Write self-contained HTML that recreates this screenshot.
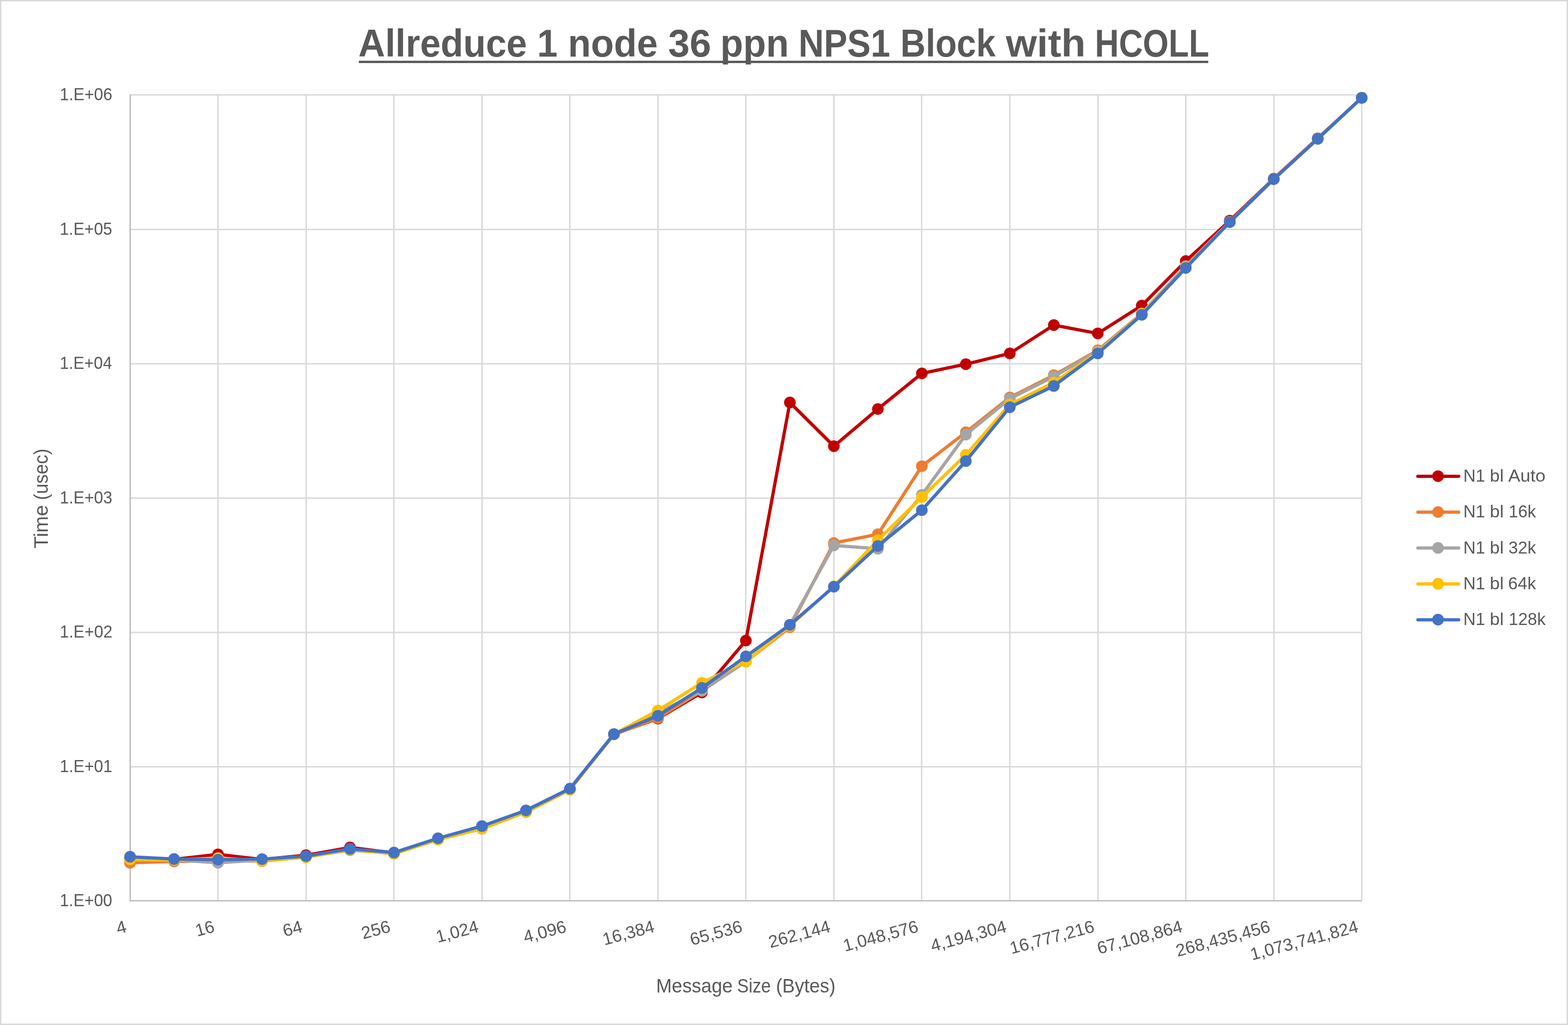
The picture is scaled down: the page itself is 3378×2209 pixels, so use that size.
<!DOCTYPE html>
<html lang="en"><head><meta charset="utf-8"><title>Allreduce 1 node 36 ppn NPS1 Block with HCOLL</title>
<style>
html,body{margin:0;padding:0;background:#fff}
body{width:3378px;height:2209px}
svg{display:block}
text{font-family:"Liberation Sans", sans-serif;fill:#595959}
.t{font-weight:bold}
.g{stroke:#D9D9D9;stroke-width:3;fill:none}
.a{stroke:#BFBFBF;stroke-width:3;fill:none}
.s{fill:none;stroke-width:7;stroke-linejoin:round;stroke-linecap:round}
</style></head><body>
<svg width="3378" height="2209" viewBox="0 0 3378 2209">
<rect x="0" y="0" width="3378" height="2209" fill="#fff"/>
<rect x="1.5" y="1.5" width="3375" height="2206" fill="none" stroke="#D9D9D9" stroke-width="3"/>
<path class="g" d="M280.5 1652.5H2935M280.5 1363H2935M280.5 1073.5H2935M280.5 784H2935M280.5 494.5H2935M280.5 204.5H2935M469.5 204.5V1941.3M659.5 204.5V1941.3M848.5 204.5V1941.3M1038.5 204.5V1941.3M1227.5 204.5V1941.3M1417.5 204.5V1941.3M1606.5 204.5V1941.3M1796.5 204.5V1941.3M1985.5 204.5V1941.3M2175.5 204.5V1941.3M2365.5 204.5V1941.3M2554.5 204.5V1941.3M2744.5 204.5V1941.3M2933.5 204.5V1941.3"/>
<path class="a" d="M280.5 203.5V1941.3H2934"/>
<g stroke="#C00000" fill="#C00000">
<polyline class="s" points="280.2,1850 374.96,1852 469.73,1841.2 564.5,1852.3 659.26,1843.1 754.02,1826.4 848.79,1838.3 943.56,1807.5 1038.32,1781.5 1133.09,1747.6 1227.85,1700.5 1322.62,1582.3 1417.38,1548.6 1512.14,1492.5 1606.91,1380.5 1701.67,867.4 1796.44,961.6 1891.21,881.5 1985.97,804.7 2080.74,784.8 2175.5,761.6 2270.26,700.6 2365.03,718.6 2459.79,658.5 2554.56,562.5 2649.32,475.5 2744.09,385 2838.86,298.2 2933.62,210.8"/>
<g stroke="none"><circle cx="280.2" cy="1850" r="12.55"/><circle cx="374.96" cy="1852" r="12.55"/><circle cx="469.73" cy="1841.2" r="12.55"/><circle cx="564.5" cy="1852.3" r="12.55"/><circle cx="659.26" cy="1843.1" r="12.55"/><circle cx="754.02" cy="1826.4" r="12.55"/><circle cx="848.79" cy="1838.3" r="12.55"/><circle cx="943.56" cy="1807.5" r="12.55"/><circle cx="1038.32" cy="1781.5" r="12.55"/><circle cx="1133.09" cy="1747.6" r="12.55"/><circle cx="1227.85" cy="1700.5" r="12.55"/><circle cx="1322.62" cy="1582.3" r="12.55"/><circle cx="1417.38" cy="1548.6" r="12.55"/><circle cx="1512.14" cy="1492.5" r="12.55"/><circle cx="1606.91" cy="1380.5" r="12.55"/><circle cx="1701.67" cy="867.4" r="12.55"/><circle cx="1796.44" cy="961.6" r="12.55"/><circle cx="1891.21" cy="881.5" r="12.55"/><circle cx="1985.97" cy="804.7" r="12.55"/><circle cx="2080.74" cy="784.8" r="12.55"/><circle cx="2175.5" cy="761.6" r="12.55"/><circle cx="2270.26" cy="700.6" r="12.55"/><circle cx="2365.03" cy="718.6" r="12.55"/><circle cx="2459.79" cy="658.5" r="12.55"/><circle cx="2554.56" cy="562.5" r="12.55"/><circle cx="2649.32" cy="475.5" r="12.55"/><circle cx="2744.09" cy="385" r="12.55"/><circle cx="2838.86" cy="298.2" r="12.55"/><circle cx="2933.62" cy="210.8" r="12.55"/></g>
</g>
<g stroke="#ED7D31" fill="#ED7D31">
<polyline class="s" points="280.2,1859.5 374.96,1856.5 469.73,1855 564.5,1855.8 659.26,1847 754.02,1830.8 848.79,1839.9 943.56,1809.1 1038.32,1785.9 1133.09,1750.1 1227.85,1701.8 1322.62,1583 1417.38,1547.5 1512.14,1489 1606.91,1425.7 1701.67,1351.7 1796.44,1170.3 1891.21,1151.4 1985.97,1004.7 2080.74,931.5 2175.5,856.6 2270.26,808.6 2365.03,754.9 2459.79,675.6 2554.56,574 2649.32,478 2744.09,386 2838.86,299.1 2933.62,210.8"/>
<g stroke="none"><circle cx="280.2" cy="1859.5" r="12.55"/><circle cx="374.96" cy="1856.5" r="12.55"/><circle cx="469.73" cy="1855" r="12.55"/><circle cx="564.5" cy="1855.8" r="12.55"/><circle cx="659.26" cy="1847" r="12.55"/><circle cx="754.02" cy="1830.8" r="12.55"/><circle cx="848.79" cy="1839.9" r="12.55"/><circle cx="943.56" cy="1809.1" r="12.55"/><circle cx="1038.32" cy="1785.9" r="12.55"/><circle cx="1133.09" cy="1750.1" r="12.55"/><circle cx="1227.85" cy="1701.8" r="12.55"/><circle cx="1322.62" cy="1583" r="12.55"/><circle cx="1417.38" cy="1547.5" r="12.55"/><circle cx="1512.14" cy="1489" r="12.55"/><circle cx="1606.91" cy="1425.7" r="12.55"/><circle cx="1701.67" cy="1351.7" r="12.55"/><circle cx="1796.44" cy="1170.3" r="12.55"/><circle cx="1891.21" cy="1151.4" r="12.55"/><circle cx="1985.97" cy="1004.7" r="12.55"/><circle cx="2080.74" cy="931.5" r="12.55"/><circle cx="2175.5" cy="856.6" r="12.55"/><circle cx="2270.26" cy="808.6" r="12.55"/><circle cx="2365.03" cy="754.9" r="12.55"/><circle cx="2459.79" cy="675.6" r="12.55"/><circle cx="2554.56" cy="574" r="12.55"/><circle cx="2649.32" cy="478" r="12.55"/><circle cx="2744.09" cy="386" r="12.55"/><circle cx="2838.86" cy="299.1" r="12.55"/><circle cx="2933.62" cy="210.8" r="12.55"/></g>
</g>
<g stroke="#A5A5A5" fill="#A5A5A5">
<polyline class="s" points="280.2,1850 374.96,1853 469.73,1859.5 564.5,1853 659.26,1846.5 754.02,1832.4 848.79,1838.8 943.56,1808 1038.32,1782.5 1133.09,1748.5 1227.85,1700.8 1322.62,1582.3 1417.38,1536.5 1512.14,1488.4 1606.91,1425.6 1701.67,1346.8 1796.44,1175.4 1891.21,1182.6 1985.97,1066.6 2080.74,936.6 2175.5,859.4 2270.26,811.4 2365.03,757.1 2459.79,675.8 2554.56,573.6 2649.32,478.2 2744.09,386 2838.86,299.1 2933.62,210.8"/>
<g stroke="none"><circle cx="280.2" cy="1850" r="12.55"/><circle cx="374.96" cy="1853" r="12.55"/><circle cx="469.73" cy="1859.5" r="12.55"/><circle cx="564.5" cy="1853" r="12.55"/><circle cx="659.26" cy="1846.5" r="12.55"/><circle cx="754.02" cy="1832.4" r="12.55"/><circle cx="848.79" cy="1838.8" r="12.55"/><circle cx="943.56" cy="1808" r="12.55"/><circle cx="1038.32" cy="1782.5" r="12.55"/><circle cx="1133.09" cy="1748.5" r="12.55"/><circle cx="1227.85" cy="1700.8" r="12.55"/><circle cx="1322.62" cy="1582.3" r="12.55"/><circle cx="1417.38" cy="1536.5" r="12.55"/><circle cx="1512.14" cy="1488.4" r="12.55"/><circle cx="1606.91" cy="1425.6" r="12.55"/><circle cx="1701.67" cy="1346.8" r="12.55"/><circle cx="1796.44" cy="1175.4" r="12.55"/><circle cx="1891.21" cy="1182.6" r="12.55"/><circle cx="1985.97" cy="1066.6" r="12.55"/><circle cx="2080.74" cy="936.6" r="12.55"/><circle cx="2175.5" cy="859.4" r="12.55"/><circle cx="2270.26" cy="811.4" r="12.55"/><circle cx="2365.03" cy="757.1" r="12.55"/><circle cx="2459.79" cy="675.8" r="12.55"/><circle cx="2554.56" cy="573.6" r="12.55"/><circle cx="2649.32" cy="478.2" r="12.55"/><circle cx="2744.09" cy="386" r="12.55"/><circle cx="2838.86" cy="299.1" r="12.55"/><circle cx="2933.62" cy="210.8" r="12.55"/></g>
</g>
<g stroke="#FFC000" fill="#FFC000">
<polyline class="s" points="280.2,1852.4 374.96,1853.5 469.73,1849.3 564.5,1855.3 659.26,1847.6 754.02,1830.8 848.79,1839.9 943.56,1809.1 1038.32,1785.9 1133.09,1750.1 1227.85,1701.8 1322.62,1582.3 1417.38,1531.2 1512.14,1471.5 1606.91,1425.7 1701.67,1348.9 1796.44,1263.6 1891.21,1164.3 1985.97,1071.5 2080.74,980.3 2175.5,871.7 2270.26,824.5 2365.03,759.4 2459.79,676.8 2554.56,576.4 2649.32,478.5 2744.09,386 2838.86,299.1 2933.62,210.8"/>
<g stroke="none"><circle cx="280.2" cy="1852.4" r="12.55"/><circle cx="374.96" cy="1853.5" r="12.55"/><circle cx="469.73" cy="1849.3" r="12.55"/><circle cx="564.5" cy="1855.3" r="12.55"/><circle cx="659.26" cy="1847.6" r="12.55"/><circle cx="754.02" cy="1830.8" r="12.55"/><circle cx="848.79" cy="1839.9" r="12.55"/><circle cx="943.56" cy="1809.1" r="12.55"/><circle cx="1038.32" cy="1785.9" r="12.55"/><circle cx="1133.09" cy="1750.1" r="12.55"/><circle cx="1227.85" cy="1701.8" r="12.55"/><circle cx="1322.62" cy="1582.3" r="12.55"/><circle cx="1417.38" cy="1531.2" r="12.55"/><circle cx="1512.14" cy="1471.5" r="12.55"/><circle cx="1606.91" cy="1425.7" r="12.55"/><circle cx="1701.67" cy="1348.9" r="12.55"/><circle cx="1796.44" cy="1263.6" r="12.55"/><circle cx="1891.21" cy="1164.3" r="12.55"/><circle cx="1985.97" cy="1071.5" r="12.55"/><circle cx="2080.74" cy="980.3" r="12.55"/><circle cx="2175.5" cy="871.7" r="12.55"/><circle cx="2270.26" cy="824.5" r="12.55"/><circle cx="2365.03" cy="759.4" r="12.55"/><circle cx="2459.79" cy="676.8" r="12.55"/><circle cx="2554.56" cy="576.4" r="12.55"/><circle cx="2649.32" cy="478.5" r="12.55"/><circle cx="2744.09" cy="386" r="12.55"/><circle cx="2838.86" cy="299.1" r="12.55"/><circle cx="2933.62" cy="210.8" r="12.55"/></g>
</g>
<g stroke="#4472C4" fill="#4472C4">
<polyline class="s" points="280.2,1846.4 374.96,1851.3 469.73,1852.75 564.5,1851.45 659.26,1845 754.02,1829.3 848.79,1837.3 943.56,1806.5 1038.32,1780.3 1133.09,1746.5 1227.85,1699.5 1322.62,1582 1417.38,1542.6 1512.14,1482.6 1606.91,1414.5 1701.67,1346.6 1796.44,1264.5 1891.21,1176.7 1985.97,1099.5 2080.74,993.7 2175.5,877.6 2270.26,831.8 2365.03,761.6 2459.79,678.5 2554.56,577.5 2649.32,478.7 2744.09,386 2838.86,299.1 2933.62,210.8"/>
<g stroke="none"><circle cx="280.2" cy="1846.4" r="12.55"/><circle cx="374.96" cy="1851.3" r="12.55"/><circle cx="469.73" cy="1852.75" r="12.55"/><circle cx="564.5" cy="1851.45" r="12.55"/><circle cx="659.26" cy="1845" r="12.55"/><circle cx="754.02" cy="1829.3" r="12.55"/><circle cx="848.79" cy="1837.3" r="12.55"/><circle cx="943.56" cy="1806.5" r="12.55"/><circle cx="1038.32" cy="1780.3" r="12.55"/><circle cx="1133.09" cy="1746.5" r="12.55"/><circle cx="1227.85" cy="1699.5" r="12.55"/><circle cx="1322.62" cy="1582" r="12.55"/><circle cx="1417.38" cy="1542.6" r="12.55"/><circle cx="1512.14" cy="1482.6" r="12.55"/><circle cx="1606.91" cy="1414.5" r="12.55"/><circle cx="1701.67" cy="1346.6" r="12.55"/><circle cx="1796.44" cy="1264.5" r="12.55"/><circle cx="1891.21" cy="1176.7" r="12.55"/><circle cx="1985.97" cy="1099.5" r="12.55"/><circle cx="2080.74" cy="993.7" r="12.55"/><circle cx="2175.5" cy="877.6" r="12.55"/><circle cx="2270.26" cy="831.8" r="12.55"/><circle cx="2365.03" cy="761.6" r="12.55"/><circle cx="2459.79" cy="678.5" r="12.55"/><circle cx="2554.56" cy="577.5" r="12.55"/><circle cx="2649.32" cy="478.7" r="12.55"/><circle cx="2744.09" cy="386" r="12.55"/><circle cx="2838.86" cy="299.1" r="12.55"/><circle cx="2933.62" cy="210.8" r="12.55"/></g>
</g>
<g stroke="#C00000" fill="#C00000"><path class="s" d="M3054.5 1026.5H3142.5"/><circle cx="3098" cy="1026.2" r="12.55" stroke="none"/></g>
<g stroke="#ED7D31" fill="#ED7D31"><path class="s" d="M3054.5 1103.8H3142.5"/><circle cx="3098" cy="1103.5" r="12.55" stroke="none"/></g>
<g stroke="#A5A5A5" fill="#A5A5A5"><path class="s" d="M3054.5 1181.1H3142.5"/><circle cx="3098" cy="1180.8" r="12.55" stroke="none"/></g>
<g stroke="#FFC000" fill="#FFC000"><path class="s" d="M3054.5 1258.4H3142.5"/><circle cx="3098" cy="1258.1" r="12.55" stroke="none"/></g>
<g stroke="#4472C4" fill="#4472C4"><path class="s" d="M3054.5 1335.7H3142.5"/><circle cx="3098" cy="1335.4" r="12.55" stroke="none"/></g>
<rect x="773" y="130.9" width="1830" height="5" fill="#595959"/>
<g transform="translate(1688.5 122.3)"><text class="t" font-size="84.2"><tspan x="-916.43" textLength="363.26" lengthAdjust="spacingAndGlyphs">Allreduce</tspan> <tspan x="-531.18" textLength="44.01" lengthAdjust="spacingAndGlyphs">1</tspan> <tspan x="-465.08" textLength="193.72" lengthAdjust="spacingAndGlyphs">node</tspan> <tspan x="-249.11" textLength="92.57" lengthAdjust="spacingAndGlyphs">36</tspan> <tspan x="-136.69" textLength="147.64" lengthAdjust="spacingAndGlyphs">ppn</tspan> <tspan x="31.79" textLength="197.51" lengthAdjust="spacingAndGlyphs">NPS1</tspan> <tspan x="251.35" textLength="205.03" lengthAdjust="spacingAndGlyphs">Block</tspan> <tspan x="478.4" textLength="171.93" lengthAdjust="spacingAndGlyphs">with</tspan> <tspan x="670.35" textLength="245.91" lengthAdjust="spacingAndGlyphs">HCOLL</tspan></text></g>
<g transform="translate(241.5 1953.3)"><text x="-112.81" font-size="37.3" textLength="113.03" lengthAdjust="spacingAndGlyphs">1.E+00</text></g>
<g transform="translate(241.5 1663.82)"><text x="-112.81" font-size="37.3" textLength="113.27" lengthAdjust="spacingAndGlyphs">1.E+01</text></g>
<g transform="translate(241.5 1374.33)"><text x="-112.82" font-size="37.3" textLength="113.52" lengthAdjust="spacingAndGlyphs">1.E+02</text></g>
<g transform="translate(241.5 1084.85)"><text x="-112.81" font-size="37.3" textLength="113.27" lengthAdjust="spacingAndGlyphs">1.E+03</text></g>
<g transform="translate(241.5 795.37)"><text x="-112.8" font-size="37.3" textLength="112.54" lengthAdjust="spacingAndGlyphs">1.E+04</text></g>
<g transform="translate(241.5 505.88)"><text x="-112.81" font-size="37.3" textLength="113.03" lengthAdjust="spacingAndGlyphs">1.E+05</text></g>
<g transform="translate(241.5 216.4)"><text x="-112.81" font-size="37.3" textLength="113.27" lengthAdjust="spacingAndGlyphs">1.E+06</text></g>
<g transform="translate(274.45 2008) rotate(-15)"><text x="-20.91" font-size="37.3" textLength="21.3" lengthAdjust="spacingAndGlyphs">4</text></g>
<g transform="translate(463.99 2008) rotate(-15)"><text x="-40.73" font-size="37.3" textLength="40.94" lengthAdjust="spacingAndGlyphs">16</text></g>
<g transform="translate(653.53 2008) rotate(-15)"><text x="-42.05" font-size="37.3" textLength="42.31" lengthAdjust="spacingAndGlyphs">64</text></g>
<g transform="translate(843.07 2008) rotate(-15)"><text x="-62.92" font-size="37.3" textLength="63.3" lengthAdjust="spacingAndGlyphs">256</text></g>
<g transform="translate(1032.61 2008) rotate(-15)"><text x="-92.77" font-size="37.3" textLength="93.08" lengthAdjust="spacingAndGlyphs">1,024</text></g>
<g transform="translate(1222.15 2008) rotate(-15)"><text x="-93.79" font-size="37.3" textLength="93.86" lengthAdjust="spacingAndGlyphs">4,096</text></g>
<g transform="translate(1411.69 2008) rotate(-15)"><text x="-113.66" font-size="37.3" textLength="114.08" lengthAdjust="spacingAndGlyphs">16,384</text></g>
<g transform="translate(1601.23 2008) rotate(-15)"><text x="-114.92" font-size="37.3" textLength="115.11" lengthAdjust="spacingAndGlyphs">65,536</text></g>
<g transform="translate(1790.77 2008) rotate(-15)"><text x="-135.8" font-size="37.3" textLength="136.11" lengthAdjust="spacingAndGlyphs">262,144</text></g>
<g transform="translate(1980.31 2008) rotate(-15)"><text x="-165.69" font-size="37.3" textLength="165.94" lengthAdjust="spacingAndGlyphs">1,048,576</text></g>
<g transform="translate(2169.85 2008) rotate(-15)"><text x="-166.69" font-size="37.3" textLength="167.2" lengthAdjust="spacingAndGlyphs">4,194,304</text></g>
<g transform="translate(2359.39 2008) rotate(-15)"><text x="-186.57" font-size="37.3" textLength="186.93" lengthAdjust="spacingAndGlyphs">16,777,216</text></g>
<g transform="translate(2548.93 2008) rotate(-15)"><text x="-187.83" font-size="37.3" textLength="188.45" lengthAdjust="spacingAndGlyphs">67,108,864</text></g>
<g transform="translate(2738.47 2008) rotate(-15)"><text x="-208.7" font-size="37.3" textLength="208.95" lengthAdjust="spacingAndGlyphs">268,435,456</text></g>
<g transform="translate(2928.01 2008) rotate(-15)"><text x="-238.6" font-size="37.3" textLength="239.02" lengthAdjust="spacingAndGlyphs">1,073,741,824</text></g>
<g transform="translate(1607.4 2138.8)"><text font-size="42.5"><tspan x="-193.95" textLength="164.89" lengthAdjust="spacingAndGlyphs">Message</tspan> <tspan x="-19.34" textLength="72.49" lengthAdjust="spacingAndGlyphs">Size</tspan> <tspan x="64.27" textLength="128.38" lengthAdjust="spacingAndGlyphs">(Bytes)</tspan></text></g>
<g transform="translate(102.7 1075.2) rotate(-90)"><text font-size="42.9"><tspan x="-106.9" textLength="93.59" lengthAdjust="spacingAndGlyphs">Time</tspan> <tspan x="-2.56" textLength="110.95" lengthAdjust="spacingAndGlyphs">(usec)</tspan></text></g>
<g transform="translate(3151.2 1037.9)"><text font-size="37.6"><tspan x="1.36" textLength="47.02" lengthAdjust="spacingAndGlyphs">N1</tspan> <tspan x="58.27" textLength="30.03" lengthAdjust="spacingAndGlyphs">bl</tspan> <tspan x="98.08" textLength="80.31" lengthAdjust="spacingAndGlyphs">Auto</tspan></text></g>
<g transform="translate(3151.2 1115.2)"><text font-size="37.6"><tspan x="1.37" textLength="47" lengthAdjust="spacingAndGlyphs">N1</tspan> <tspan x="58.24" textLength="30.02" lengthAdjust="spacingAndGlyphs">bl</tspan> <tspan x="99.11" textLength="58.75" lengthAdjust="spacingAndGlyphs">16k</tspan></text></g>
<g transform="translate(3151.2 1192.5)"><text font-size="37.6"><tspan x="1.37" textLength="47" lengthAdjust="spacingAndGlyphs">N1</tspan> <tspan x="58.24" textLength="30.02" lengthAdjust="spacingAndGlyphs">bl</tspan> <tspan x="98.57" textLength="59.3" lengthAdjust="spacingAndGlyphs">32k</tspan></text></g>
<g transform="translate(3151.2 1269.8)"><text font-size="37.6"><tspan x="1.37" textLength="47" lengthAdjust="spacingAndGlyphs">N1</tspan> <tspan x="58.24" textLength="30.02" lengthAdjust="spacingAndGlyphs">bl</tspan> <tspan x="97.8" textLength="60.06" lengthAdjust="spacingAndGlyphs">64k</tspan></text></g>
<g transform="translate(3151.2 1347.1)"><text font-size="37.6"><tspan x="1.36" textLength="47.02" lengthAdjust="spacingAndGlyphs">N1</tspan> <tspan x="58.27" textLength="30.03" lengthAdjust="spacingAndGlyphs">bl</tspan> <tspan x="99.15" textLength="79.37" lengthAdjust="spacingAndGlyphs">128k</tspan></text></g>
</svg></body></html>
